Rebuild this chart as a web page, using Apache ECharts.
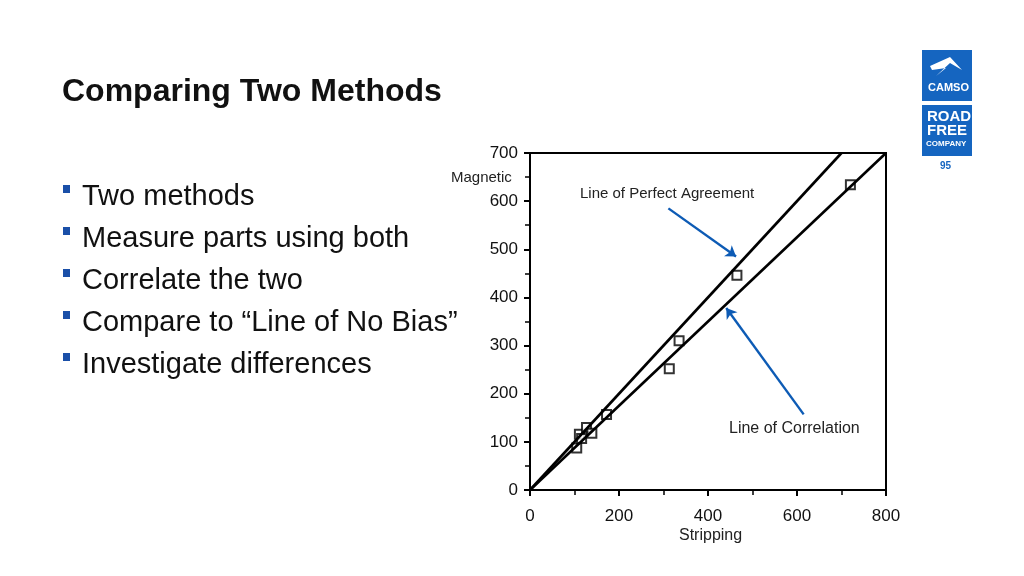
<!DOCTYPE html>
<html>
<head>
  <meta charset="utf-8">
  <title>Comparing Two Methods</title>
  <script src="https://cdn.jsdelivr.net/npm/echarts@6/dist/echarts.min.js"></script>
</head>
<style>
  * { padding: 0; margin: 0; }
  #main { width: 1024px; height: 576px; background: #fff; }
</style>
<body>
  <div id="main"></div>
  <script type="text/javascript">
    // data
    var stripping = [105, 111, 116, 127, 139, 172, 313, 335, 465, 720];
    var magnetic = [87, 116, 107, 130, 118, 157, 252, 310, 446, 634];
    var perfectLine = [[0, 0], [700, 700]];
    var correlationLine = [[0, 0], [800, 700]];
    var bullets = ['Two methods', 'Measure parts using both', 'Correlate the two',
      'Compare to \u201cLine of No Bias\u201d', 'Investigate differences'];

    var points = stripping.map(function (x, i) { return [x, magnetic[i]]; });
    var blue = '#0d5bb5';
    var font = 'Liberation Sans';

    var graphics = [
      { type: 'text', left: 62, top: 76, style: { text: 'Comparing Two Methods', font: 'bold 32px ' + font, fill: '#111' } },
      { type: 'text', left: 451, top: 170, style: { text: 'Magnetic', font: '15px ' + font, fill: '#222' } },
      { type: 'text', left: 679, top: 528, style: { text: 'Stripping', font: '16px ' + font, fill: '#222' } },
      { type: 'text', left: 580, top: 186, style: { text: 'Line of Perfect Agreement', font: '15px ' + font, fill: '#222' } },
      { type: 'text', left: 729, top: 421, style: { text: 'Line of Correlation', font: '16px ' + font, fill: '#222' } },
      // logo
      { type: 'rect', shape: { x: 922, y: 50, width: 50, height: 51 }, style: { fill: '#1565c0' } },
      { type: 'text', left: 928, top: 82, style: { text: 'CAMSO', font: 'bold 11px ' + font, fill: '#fff' } },
      { type: 'polygon', shape: { points: [[930, 66], [950, 57], [962, 70], [950, 63], [936, 76], [946, 68], [932, 70]] }, style: { fill: '#fff' } },
      { type: 'rect', shape: { x: 922, y: 105, width: 50, height: 51 }, style: { fill: '#1565c0' } },
      { type: 'text', left: 927, top: 109, style: { text: 'ROAD\nFREE', font: 'bold 15px ' + font, fill: '#fff', lineHeight: 14 } },
      { type: 'text', left: 926, top: 140, style: { text: 'COMPANY', font: 'bold 8px ' + font, fill: '#fff' } },
      { type: 'text', left: 940, top: 161, style: { text: '95', font: 'bold 10px ' + font, fill: '#1565c0' } }
    ];
    bullets.forEach(function (b, i) {
      var y = 183 + i * 42;
      graphics.push({ type: 'rect', shape: { x: 63, y: y + 2, width: 7, height: 8 }, style: { fill: '#1a4fa8' } });
      graphics.push({ type: 'text', left: 82, top: y - 1, style: { text: b, font: '29px ' + font, fill: '#111' } });
    });

    var lineStyle = { color: '#000', width: 2.6 };
    var axisLabel = { color: '#111', fontSize: 17, fontFamily: font };
    var option = {
      backgroundColor: '#fff',
      animation: false,
      grid: { left: 530, right: 138, top: 153, bottom: 86, show: true, borderColor: '#000', borderWidth: 2 },
      xAxis: {
        type: 'value', min: 0, max: 800, interval: 200,
        axisLine: { lineStyle: { color: '#000', width: 2 } },
        axisTick: { length: 6, lineStyle: { color: '#000', width: 2 } },
        minorTick: { show: true, splitNumber: 2, length: 5, lineStyle: { color: '#000', width: 1.5 } },
        splitLine: { show: false },
        axisLabel: Object.assign({ margin: 18 }, axisLabel)
      },
      yAxis: {
        type: 'value', min: 0, max: 700, interval: 100,
        axisLine: { lineStyle: { color: '#000', width: 2 } },
        axisTick: { length: 6, lineStyle: { color: '#000', width: 2 } },
        minorTick: { show: true, splitNumber: 2, length: 5, lineStyle: { color: '#000', width: 1.5 } },
        splitLine: { show: false },
        axisLabel: Object.assign({ margin: 12 }, axisLabel)
      },
      series: [
        { type: 'line', data: perfectLine, showSymbol: false, lineStyle: lineStyle, silent: true },
        { type: 'line', data: correlationLine, showSymbol: false, lineStyle: lineStyle, silent: true },
        {
          type: 'scatter', data: points, symbol: 'rect', symbolSize: 9,
          itemStyle: { color: '#fff', borderColor: '#000', borderWidth: 2 },
          markLine: {
            silent: true, symbol: ['none', 'arrow'], symbolSize: 10, label: { show: false },
            lineStyle: { color: blue, width: 2.4, type: 'solid' },
            data: [
              [{ coord: [311, 585] }, { coord: [463, 485] }],
              [{ coord: [615, 157] }, { coord: [441, 378] }]
            ]
          }
        }
      ],
      graphic: graphics
    };

    var myChart = echarts.init(document.getElementById('main'));
    myChart.setOption(option);
  </script>
</body>
</html>
